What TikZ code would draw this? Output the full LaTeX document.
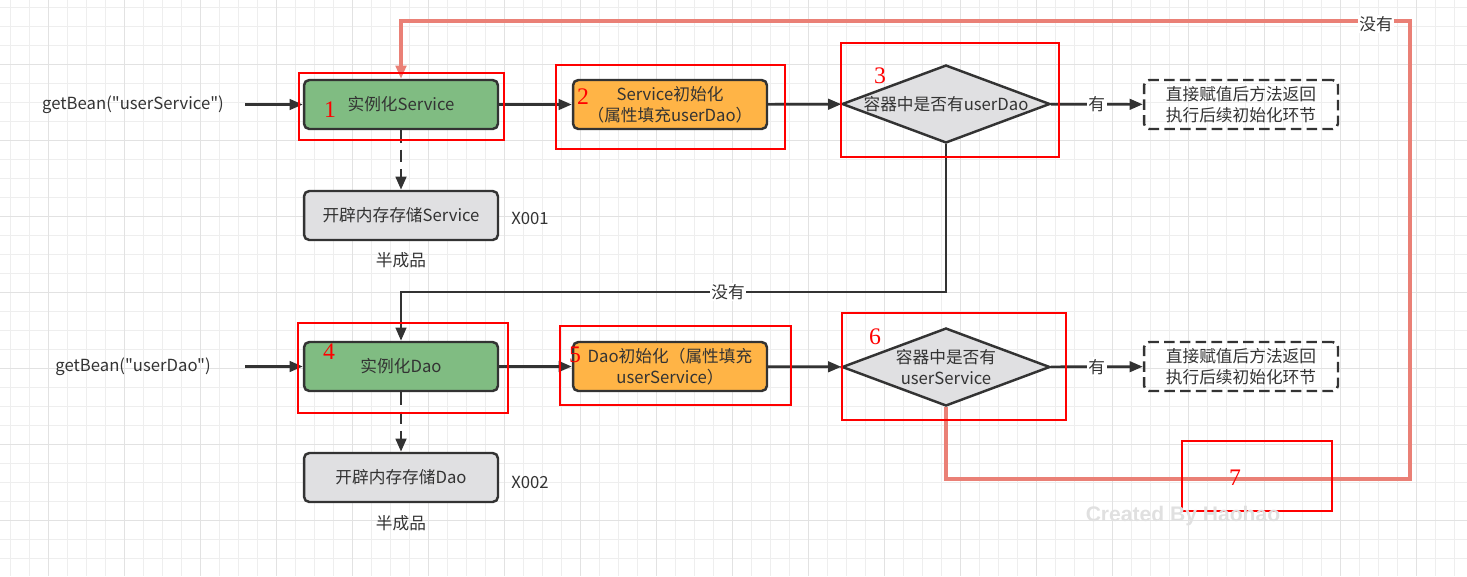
\documentclass[tikz,border=0pt]{standalone}
\usepackage{fontspec}
\setmainfont{Noto Sans CJK SC}[Ligatures=TeXOff]
\newfontfamily\numfont{Liberation Serif}
\newfontfamily\markfont{Liberation Sans}
\usetikzlibrary{arrows.meta, shapes.geometric}

\definecolor{stepgreen}{RGB}{128,188,130}
\definecolor{steporange}{RGB}{255,180,70}
\definecolor{stepgray}{RGB}{224,224,226}
\definecolor{linedark}{RGB}{51,51,51}
\definecolor{loopred}{RGB}{234,128,118}
\definecolor{gridminor}{RGB}{238,238,238}
\definecolor{gridmajor}{RGB}{226,226,226}

\begin{document}
\begin{tikzpicture}[
    x=0.02cm, y=-0.02cm,
    >={Triangle[length=7.5pt, width=6pt]}, % block arrow tips
    txt/.style={font=\fontsize{9.5}{12}\selectfont, text=linedark},
    stepbox/.style={txt, draw=linedark, line width=1.4pt, rounded corners=3pt,
        minimum width=3.88cm, minimum height=0.98cm, align=center, inner sep=0pt},
    newbox/.style={stepbox, fill=stepgreen},
    initbox/.style={stepbox, fill=steporange},
    membox/.style={stepbox, fill=stepgray},
    retbox/.style={stepbox, dashed, dash pattern=on 6pt off 3pt},
    check/.style={diamond, draw=linedark, line width=1.4pt, fill=stepgray,
        minimum width=4.16cm, minimum height=1.56cm, inner sep=0pt},
    flow/.style={->, draw=linedark, line width=1.5pt},
    dflow/.style={flow, line width=1.7pt, dash pattern=on 7pt off 4pt},
    backline/.style={->, draw=loopred, line width=1.8pt},
    redmark/.style={draw=red, line width=0.6pt},
    num/.style={text=red, font=\numfont\fontsize{13.5}{14}\selectfont},
    plain/.style={txt, inner sep=1pt}
]

\useasboundingbox (0,0) rectangle (1467,576);

% Background grid
\foreach \gx in {10.3,29.3,...,1467} \draw[gridminor, line width=0.5pt] (\gx,0) -- (\gx,576);
\foreach \gy in {7,26,...,576} \draw[gridminor, line width=0.5pt] (0,\gy) -- (1467,\gy);
\foreach \gx in {48.3,124.3,...,1467} \draw[gridmajor, line width=0.5pt] (\gx,0) -- (\gx,576);
\foreach \gy in {64,140,...,576} \draw[gridmajor, line width=0.5pt] (0,\gy) -- (1467,\gy);

% Service row
\node[plain] (getsvc) at (133,105) {getBean("userService")};
\node[newbox] (svcnew) at (401,104.5) {实例化Service};
\node[initbox] (svcinit) at (670,104.5) {Service初始化\\（属性填充userDao）};
\node[check, label={[txt]center:容器中是否有userDao}] (chksvc) at (946,104) {};
\node[retbox] (retsvc) at (1241,104.5) {直接赋值后方法返回\\执行后续初始化环节};
\node[membox] (memsvc) at (401,215.5) {开辟内存存储Service};
\node[plain] (x001) at (530,218) {X001};
\node[plain] (halfsvc) at (401,260) {半成品};

% Dao row
\node[plain] (getdao) at (133,367) {getBean("userDao")};
\node[newbox] (daonew) at (401,366.5) {实例化Dao};
\node[initbox] (daoinit) at (670,366.5) {Dao初始化（属性填充\\userService）};
\node[check, label={[txt, align=center]center:容器中是否有\\userService}] (chkdao) at (946,367) {};
\node[retbox] (retdao) at (1241,366.5) {直接赋值后方法返回\\执行后续初始化环节};
\node[membox] (memdao) at (401,477.5) {开辟内存存储Dao};
\node[plain] (x002) at (530,482) {X002};
\node[plain] (halfdao) at (401,523) {半成品};

% Free ends of connectors
\coordinate (getsvcend) at (245,104.5);
\coordinate (getdaoend) at (245,366.5);
\coordinate (midturn) at (401,292);
\coordinate (loopbr) at (1410,479);
\coordinate (looptr) at (1410,21);

% Connectors
\draw[flow] (getsvcend) -- (svcnew);
\draw[flow] (svcnew) -- (svcinit);
\draw[flow] (svcinit) -- (chksvc);
\draw[flow] (chksvc) -- node[plain, fill=white] {有} (retsvc);
\draw[dflow] (svcnew) -- (memsvc);
\draw[flow] (chksvc.south) |- node[plain, fill=white, pos=0.7] {没有} (midturn) -- (daonew);

\draw[flow] (getdaoend) -- (daonew);
\draw[flow] (daonew) -- (daoinit);
\draw[flow] (daoinit) -- (chkdao);
\draw[flow] (chkdao) -- node[plain, fill=white] {有} (retdao);
\draw[dflow] (daonew) -- (memdao);

% Loop back when userService is missing
\draw[backline] (chkdao.south) |- (loopbr) -- (looptr) -| (svcnew.north);
\node[plain, fill=white] (loopno) at (1376,24) {没有};

% Red marks
\draw[redmark] (299,73) rectangle (504,140);
\draw[redmark] (556,65) rectangle (785,149);
\draw[redmark] (841,43) rectangle (1059,157);
\draw[redmark] (298,323) rectangle (508,413);
\draw[redmark] (560,326) rectangle (791,405);
\draw[redmark] (842,313) rectangle (1066,420);
\draw[redmark] (1182,441) rectangle (1332,511);
\node[num] (n1) at (330,110) {1};
\node[num] (n2) at (583,97) {2};
\node[num] (n3) at (880,76) {3};
\node[num] (n4) at (329,352) {4};
\node[num] (n5) at (575,355) {5};
\node[num] (n6) at (875,337) {6};
\node[num] (n7) at (1235,478) {7};

% Watermark
\node[text=black!12, font=\markfont\bfseries\fontsize{12}{12}\selectfont] (wm) at (1183,516) {Created By Haohao};

\end{tikzpicture}
\end{document}
